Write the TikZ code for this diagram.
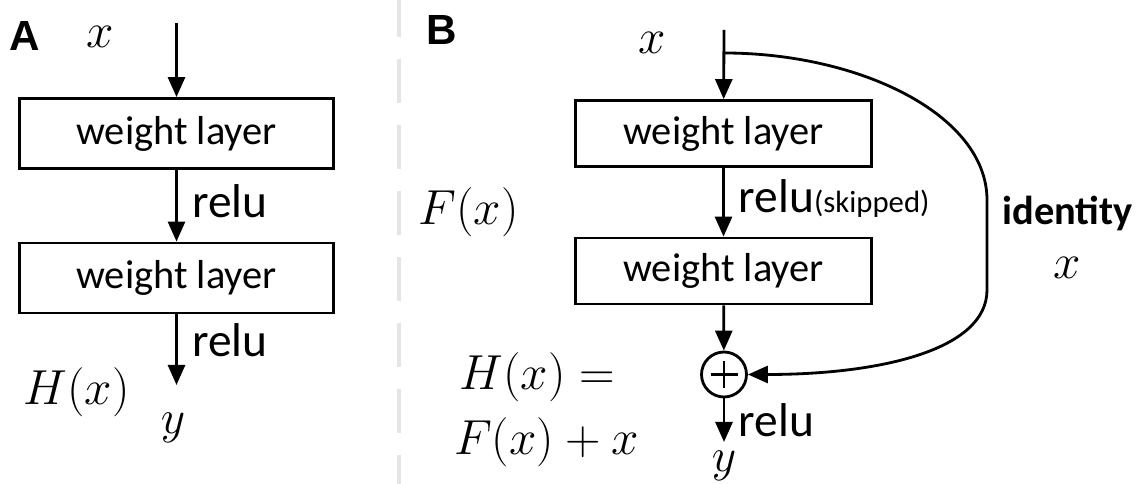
\RequirePackage{fix-cm}
\documentclass[tikz,border=0pt]{standalone}
\usepackage[no-math]{fontspec}
\setmainfont{Carlito}
\newfontfamily\panelfont{Liberation Sans}
\usetikzlibrary{arrows.meta,positioning}

\tikzset{
  layer/.style={draw,line width=1.6pt,minimum width=6.28cm,minimum height=1.40cm,inner sep=0pt,
    font=\fontsize{23}{28}\selectfont},
  layerB/.style={layer,minimum width=5.92cm,minimum height=1.32cm},
  flow/.style={line width=1.6pt,-{Triangle[length=0.4cm,width=0.34cm]}},
  panel/.style={font=\panelfont\bfseries\fontsize{24}{28}\selectfont},
  maths/.style={font=\fontsize{28}{32}\selectfont},
  sum/.style={draw,circle,line width=1.6pt,minimum size=0.9cm,inner sep=0pt,
    path picture={\draw[line width=1.6pt]
      (path picture bounding box.center) ++(-0.27,0) -- ++(0.54,0)
      (path picture bounding box.center) ++(0,-0.27) -- ++(0,0.54);}},
}

\begin{document}
\begin{tikzpicture}[font=\fontsize{27}{32}\selectfont]
  \useasboundingbox (0,0) rectangle (22.86,9.68);
  % separator
  \draw[gray!20,line width=2.8pt,dash pattern=on 0.88cm off 0.44cm] (7.98,9.82) -- (7.98,0);

  % A: plain block
  \node[panel] (labA) at (0.49,8.95) {A};
  \node[maths] (xA) at (2.0,8.94) {$x$};
  \coordinate (inA) at (3.53,9.22);
  \node[layer] (wA1) at (3.53,7.01) {weight layer};
  \node[layer] (wA2) at (3.53,4.12) {weight layer};
  \coordinate (outA) at (3.53,1.98);
  \draw[flow] (inA) -- (wA1);
  \draw[flow] (wA1) -- (wA2);
  \draw[flow] (wA2) -- (outA);
  \node[anchor=west] (reluA1) at (3.72,5.66) {relu};
  \node[anchor=west] (reluA2) at (3.72,2.88) {relu};
  \node[maths] (hA) at (1.53,1.84) {$H(x)$};
  \node (yA) at (3.46,1.12) {$y$};

  % B: residual block
  \node[panel] (labB) at (8.83,9.08) {B};
  \node[maths] (xB) at (13.04,8.82) {$x$};
  \coordinate (inB) at (14.48,9.08);
  \coordinate (split) at (14.48,8.62);
  \node[layerB] (wB1) at (14.47,7.01) {weight layer};
  \node[layerB] (wB2) at (14.47,4.26) {weight layer};
  \node[sum] (add) at (14.48,2.19) {};
  \coordinate (outB) at (14.48,0.84);
  \draw[flow] (inB) -- (wB1);
  \draw[flow] (wB1) -- (wB2);
  \draw[flow] (wB2) -- (add);
  \draw[flow] (add) -- (outB);
  \draw[flow] (split) .. controls (17.2,8.62) and (19.74,7.38) .. (19.74,5.68)
    -- (19.74,3.88) .. controls (19.74,2.68) and (17.6,2.19) .. (add.east);
  \node[anchor=west] (reluB1) at (14.65,5.70) {relu{\fontsize{17.5}{20}\selectfont(skipped)}};
  \node[anchor=west] (reluB2) at (14.65,1.27) {relu};
  \node (yB) at (14.48,0.36) {$y$};
  \node[maths] (fB) at (9.37,5.44) {$F(x)$};
  \node[maths] (hB) at (10.74,2.14) {$H(x)=$};
  \node[maths] (sB) at (10.93,0.84) {$F(x)+x$};
  \node[font=\bfseries\fontsize{23}{28}\selectfont] (idB) at (21.35,5.42) {identity};
  \node[maths] (xId) at (21.35,4.32) {$x$};
\end{tikzpicture}
\end{document}
